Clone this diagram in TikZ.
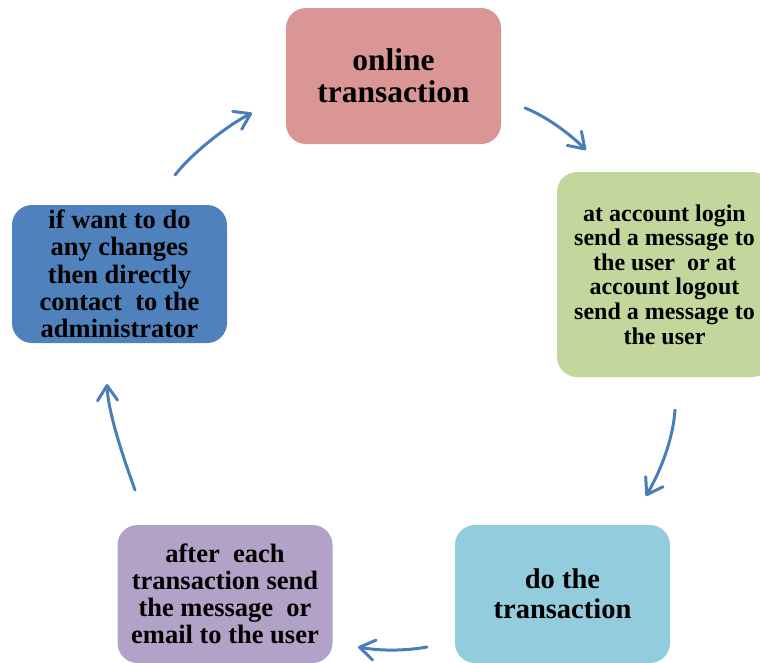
\documentclass[tikz,border=0pt]{standalone}
\usepackage{fontspec}
\setmainfont{Liberation Serif}
\usetikzlibrary{arrows.meta}
\definecolor{pinkc}{RGB}{217,150,148}
\definecolor{greenc}{RGB}{195,214,155}
\definecolor{bluec}{RGB}{79,129,189}
\definecolor{purplec}{RGB}{179,162,199}
\definecolor{cyanc}{RGB}{147,205,221}
\definecolor{arrowc}{RGB}{74,126,187}
\begin{document}
\begin{tikzpicture}[x=1pt,y=-1pt,
  box/.style={rectangle, rounded corners=20pt, minimum width=215pt, inner sep=0pt, align=center},
  conn/.style={draw=arrowc, line width=3pt, line cap=round, -{Straight Barb[length=15pt,width=20pt,line cap=round,line join=round]}}]
\useasboundingbox (0,0) rectangle (760,662);
\clip (0,0) rectangle (760,662);
\node[box, fill=pinkc, minimum height=136pt, font=\fontsize{31.5pt}{32pt}\selectfont\bfseries] (online) at (393.5,76) {online\\transaction};
\node[box, fill=greenc, minimum height=205pt, font=\fontsize{24pt}{24.6pt}\selectfont\bfseries] (login) at (664.5,274.5) {at account login\\send a message to\\the user\ \ or at\\account logout\\send a message to\\the user};
\node[box, fill=cyanc, minimum height=138pt, font=\fontsize{28.5pt}{30pt}\selectfont\bfseries] (do) at (562.5,594) {do the\\transaction};
\node[box, fill=purplec, minimum height=138pt, font=\fontsize{26.5pt}{27pt}\selectfont\bfseries] (after) at (225,594) {after\ \ each\\transaction send\\the message\ \ or\\email to the user};
\node[box, fill=bluec, minimum height=138pt, font=\fontsize{26.5pt}{27.3pt}\selectfont\bfseries] (admin) at (119.5,274) {if want to do\\any changes\\then directly\\contact\ \ to the\\administrator};
\coordinate (a1s) at (175,175); \coordinate (a1e) at (252,113);
\coordinate (a2s) at (525,108); \coordinate (a2e) at (586,150);
\coordinate (a3s) at (675,410); \coordinate (a3e) at (646,496);
\coordinate (a4s) at (427,647); \coordinate (a4e) at (358,647);
\coordinate (a5s) at (135,490); \coordinate (a5e) at (107,384);
\draw[conn] (a1s) .. controls (192,153) and (228,125) .. (a1e);
\draw[conn] (a2s) .. controls (548,117) and (572,136) .. (a2e);
\draw[conn] (a3s) .. controls (673,440) and (660,472) .. (a3e);
\draw[conn] (a4s) .. controls (405,651) and (380,651) .. (a4e);
\draw[conn] (a5s) .. controls (126,465) and (108,414) .. (a5e);
\end{tikzpicture}
\end{document}
